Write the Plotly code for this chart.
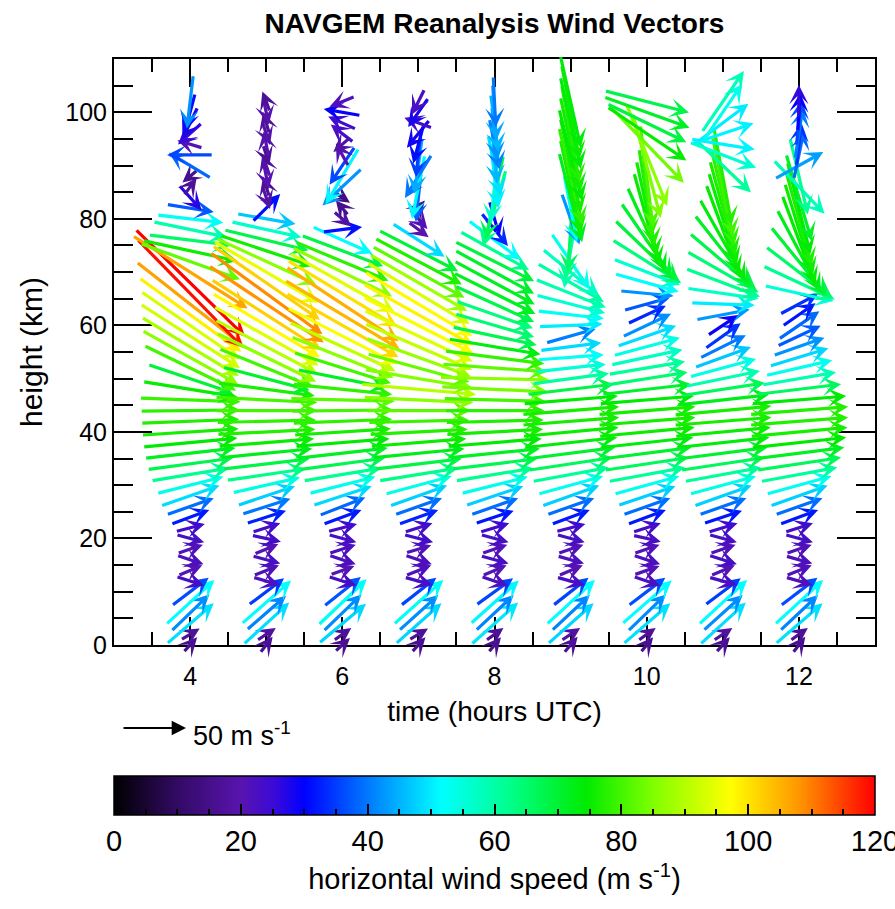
import math
import plotly.graph_objects as go
from plotly.colors import sample_colorscale

# ---------------------------------------------------------------------------
# Data: NAVGEM reanalysis horizontal wind profiles (m/s), hourly, 0-102 km
# ---------------------------------------------------------------------------
hours = [4, 5, 6, 7, 8, 9, 10, 11, 12]
heights_km = [0, 2, 4, 6, 8, 10, 12, 14, 16, 18, 20, 22, 24, 26, 28, 30, 32, 34,
              36, 38, 40, 42, 44, 46, 48, 50, 52, 54, 56, 58, 60, 62, 64, 66, 68,
              70, 72, 74, 76, 78, 80, 82, 84, 86, 88, 90, 92, 94, 96, 98, 100, 102]

# zonal (u, eastward) and meridional (v, northward) components
u_04 = [11, 15, 37, 30, 38, 29, 22, 19, 21, 20, 22, 23, 30, 37, 46, 52, 61, 67, 71, 74, 76, 77, 78, 79, 74,
        66, 72, 75, 76, 78, 77, 80, 84, 83, 86, 90, 78, 74, 65, 58, 52, 37, 18, 10, -12, -33, -36, -20, -19, -12, -8, -5]
v_04 = [12, 9, 32, 29, 35, 22, -7, 8, -7, 7, -6, 6, 11, 13, 16, 13, 10, 9, 8, 7, 5, 3, 1, -3, -12,
        -22, -35, -42, -46, -50, -53, -58, -66, -85, -84, -57, -28, -16, -8, -12, -6, -6, -20, 14, -10, 20, 0, 6, -17, -25, -30, -42]

u_05 = [10, 15, 36, 31, 39, 28, 21, 20, 22, 19, 23, 22, 31, 38, 45, 53, 62, 68, 72, 75, 77, 78, 80, 80, 76,
        68, 74, 78, 80, 82, 84, 86, 90, 88, 84, 82, 78, 72, 66, 55, 46, 22, 6, -5, 4, -6, 5, -4, 6, -5, 4, -6]
v_05 = [13, 10, 33, 27, 34, 21, -6, 8, -6, 8, -5, 7, 10, 12, 15, 12, 9, 8, 7, 6, 4, 2, 0, -4, -10,
        -18, -30, -38, -42, -46, -50, -55, -60, -64, -58, -48, -36, -24, -16, -12, -8, 22, -18, 16, -20, 18, -16, 20, -18, 17, -19, 16]

u_06 = [12, 14, 37, 30, 38, 29, 22, 19, 21, 21, 22, 23, 30, 36, 46, 52, 61, 67, 71, 74, 76, 78, 80, 82, 78,
        70, 76, 80, 83, 86, 88, 90, 88, 86, 82, 78, 72, 64, 47, 31, 14, -10, 12, -31, -26, -20, -10, -14, -18, -22, -29, -20]
v_06 = [11, 10, 31, 29, 36, 23, -7, 7, -7, 7, -6, 6, 11, 14, 15, 13, 10, 9, 8, 6, 5, 3, 1, -2, -8,
        -14, -24, -32, -38, -44, -50, -54, -58, -52, -46, -38, -30, -24, -21, 4, -12, 12, -8, -29, -44, -30, 18, -12, 14, 10, 5, -8]

u_07 = [11, 15, 36, 31, 39, 28, 22, 20, 21, 20, 23, 22, 31, 37, 45, 52, 62, 68, 72, 75, 77, 79, 82, 86, 90,
        84, 80, 82, 84, 85, 86, 86, 84, 80, 76, 72, 68, 62, 41, 16, 14, 10, -4, -10, -21, -6, -4, -8, -18, -22, -16, -10]
v_07 = [12, 9, 32, 28, 35, 22, -6, 8, -7, 6, -6, 7, 11, 13, 16, 14, 10, 8, 7, 6, 4, 2, 0, -4, -8,
        -14, -22, -30, -36, -40, -44, -48, -50, -48, -44, -40, -36, -32, -26, -12, -16, 12, -38, -50, -34, -44, -35, -30, -22, 8, -23, -20]

u_08 = [10, 14, 37, 30, 38, 29, 21, 19, 22, 20, 22, 23, 30, 37, 45, 52, 61, 67, 71, 74, 76, 77, 78, 80, 84,
        86, 82, 78, 72, 66, 62, 60, 62, 64, 63, 62, 62, 54, 41, 21, 8, -18, -14, -6, 6, 10, 4, 8, 4, 6, 3, 2]
v_08 = [12, 10, 33, 28, 34, 21, -7, 8, -6, 7, -6, 7, 10, 13, 15, 13, 10, 8, 7, 6, 4, 2, 0, -2, -4,
        -2, -6, -10, -12, -14, -18, -21, -28, -32, -34, -34, -31, -30, -31, -26, -28, -60, -66, -56, -50, -48, -45, -40, -42, -45, -44, -40]

u_09 = [11, 15, 36, 30, 38, 28, 22, 19, 21, 20, 22, 23, 30, 37, 45, 51, 60, 66, 70, 73, 75, 76, 76, 74, 68,
        60, 55, 52, 48, 39, 50, 52, 54, 55, 52, 44, 30, -10, -8, -4, 14, 10, 18, 16, 18, 16, 18, 16, 14, 16, 14, 16]
v_09 = [13, 10, 32, 28, 35, 22, -6, 8, -6, 7, -6, 6, 11, 13, 16, 14, 11, 10, 9, 8, 7, 6, 6, 6, 8,
        8, 6, 4, 6, 11, 2, -6, -14, -22, -30, -36, -44, -58, -62, -66, -40, -52, -70, -74, -76, -74, -72, -74, -76, -72, -74, -72]

u_10 = [10, 14, 37, 30, 39, 29, 21, 20, 21, 20, 22, 22, 30, 37, 45, 51, 60, 66, 70, 73, 75, 76, 76, 74, 70,
        64, 60, 56, 52, 46, 38, 30, 36, 42, 50, 52, 54, 50, 40, 30, 20, 16, 12, 8, 10, 22, 32, 58, 62, 62, 67, 66]
v_10 = [12, 10, 32, 29, 34, 22, -7, 7, -7, 7, -5, 7, 11, 13, 15, 14, 11, 10, 9, 8, 7, 6, 6, 6, 8,
        10, 10, 12, 14, 16, 18, 14, 10, -4, -14, -20, -34, -48, -58, -66, -72, -74, -76, -78, -80, -82, -80, -60, -42, -30, -24, -17]

u_11 = [11, 15, 36, 31, 38, 28, 22, 19, 22, 20, 22, 23, 30, 37, 45, 52, 60, 66, 70, 73, 75, 76, 76, 72, 66,
        58, 52, 44, 36, 28, 24, 42, 50, 56, 58, 56, 52, 44, 36, 26, 22, 20, 18, 16, 14, 44, 52, 50, 48, 40, 30, 33]
v_11 = [12, 10, 33, 28, 35, 21, -6, 8, -7, 7, -6, 7, 10, 13, 16, 14, 11, 10, 9, 8, 7, 6, 7, 8, 10,
        12, 14, 16, 18, 20, 16, 8, -2, -8, -22, -32, -44, -56, -64, -70, -72, -74, -76, -78, -76, -42, -20, -8, 16, 30, 44, 48]

u_12 = [10, 14, 37, 30, 38, 29, 21, 20, 21, 20, 22, 22, 30, 37, 45, 51, 60, 66, 71, 74, 76, 77, 77, 74, 66,
        58, 52, 46, 40, 34, 32, 26, 30, 54, 56, 52, 44, 34, 26, 22, 20, 18, 20, 40, 14, 38, 8, 4, 6, 4, 2, 0]
v_12 = [13, 10, 32, 28, 35, 22, -6, 8, -6, 7, -6, 7, 11, 13, 16, 14, 11, 10, 9, 8, 7, 6, 6, 6, 8,
        10, 12, 14, 14, 16, 22, 18, 16, -12, -26, -40, -54, -64, -70, -72, -74, -72, -68, -42, -60, 21, 38, 34, 40, 36, 30, 26]

u_wind = dict(zip(hours, [u_04, u_05, u_06, u_07, u_08, u_09, u_10, u_11, u_12]))
v_wind = dict(zip(hours, [v_04, v_05, v_06, v_07, v_08, v_09, v_10, v_11, v_12]))

speed_ticks = [0, 20, 40, 60, 80, 100, 120]
REF_SPEED = 50          # reference vector, m/s

# ---------------------------------------------------------------------------
# Styling
# ---------------------------------------------------------------------------
FONT = "Liberation Sans, Arial, Helvetica, sans-serif"
W, H = 895, 909
M_L, M_R, M_T, M_B = 114, 20, 59, 264
X_RANGE = [3, 13]
Y_RANGE = [0, 110]
PX_PER_MS = 64.0 / REF_SPEED      # drawn arrow length per m/s

SPEED_SCALE = [
    [0.000, "rgb(0,0,0)"],
    [0.083, "rgb(50,10,100)"],
    [0.167, "rgb(88,20,175)"],
    [0.210, "rgb(60,10,215)"],
    [0.250, "rgb(0,0,255)"],
    [0.333, "rgb(0,120,255)"],
    [0.430, "rgb(0,255,255)"],
    [0.520, "rgb(0,255,140)"],
    [0.620, "rgb(0,235,0)"],
    [0.710, "rgb(130,255,0)"],
    [0.810, "rgb(255,255,0)"],
    [0.900, "rgb(255,150,0)"],
    [1.000, "rgb(255,0,0)"],
]
CLEAR_SCALE = [[0, "rgba(0,0,0,0)"], [1, "rgba(0,0,0,0)"]]
SMAX = speed_ticks[-1]

plot_w = W - M_L - M_R
plot_h = H - M_T - M_B
hr_per_px = (X_RANGE[1] - X_RANGE[0]) / plot_w
km_per_px = (Y_RANGE[1] - Y_RANGE[0]) / plot_h

# ---------------------------------------------------------------------------
# Vectors: each arrow centred on its (time, height) grid point
# ---------------------------------------------------------------------------
annotations = []
pt_t, pt_z, pt_s, pt_u, pt_v = [], [], [], [], []
for t in hours:
    us, vs = u_wind[t], v_wind[t]
    assert len(us) == len(heights_km) == len(vs)
    for z, u, v in zip(heights_km, us, vs):
        spd = math.hypot(u, v)
        col = sample_colorscale(SPEED_SCALE, [min(spd, SMAX) / SMAX])[0]
        dx = u * PX_PER_MS * hr_per_px
        dz = v * PX_PER_MS * km_per_px
        annotations.append(dict(
            x=t + dx / 2, y=z + dz / 2, ax=t - dx / 2, ay=z - dz / 2,
            xref="x", yref="y", axref="x", ayref="y",
            text="", showarrow=True, arrowhead=3, arrowsize=1.0,
            arrowwidth=3.2, arrowcolor=col, standoff=0, startstandoff=0,
        ))
        pt_t.append(t); pt_z.append(z); pt_s.append(spd); pt_u.append(u); pt_v.append(v)

# reference vector
ref_tail = X_RANGE[0] + 8 * hr_per_px
annotations.append(dict(
    x=ref_tail + REF_SPEED * PX_PER_MS * hr_per_px, y=-0.1416, xref="x", yref="paper",
    ax=ref_tail, ay=0, axref="x", ayref="pixel",
    text="", showarrow=True, arrowhead=2, arrowsize=1.3, arrowwidth=2.2,
    arrowcolor="black", standoff=0, startstandoff=0,
))
annotations.append(dict(
    x=(191 - M_L) / plot_w, y=-0.152, xref="paper", yref="paper",
    xanchor="left", yanchor="middle", showarrow=False,
    text="50 m s<sup>-1</sup>", font=dict(family=FONT, size=27, color="black"),
))

fig = go.Figure()

hover = "t=%{x} h, z=%{y} km<br>u=%{customdata[0]}, v=%{customdata[1]}<br>|V|=%{marker.color:.0f} m/s<extra></extra>"
cd = list(zip(pt_u, pt_v))

# colour bar (gradient + minor ticks)
fig.add_trace(go.Scatter(
    x=pt_t, y=pt_z, mode="markers", customdata=cd, hovertemplate=hover,
    marker=dict(size=10, opacity=0, color=pt_s, colorscale=SPEED_SCALE, cmin=0, cmax=SMAX,
                showscale=True,
                colorbar=dict(orientation="h", x=0.5, xanchor="center", len=1.0, lenmode="fraction",
                              y=-0.2235, yanchor="top", thickness=39, xpad=0, ypad=0,
                              outlinewidth=0, ticks="inside", tickmode="linear", tick0=0, dtick=5,
                              ticklen=6, tickwidth=1.5, tickcolor="black", showticklabels=False)),
    showlegend=False,
))
# colour bar (outline, major ticks, labels, title)
fig.add_trace(go.Scatter(
    x=pt_t, y=pt_z, mode="markers", hoverinfo="skip",
    marker=dict(size=10, opacity=0, color=pt_s, colorscale=CLEAR_SCALE, cmin=0, cmax=SMAX,
                showscale=True,
                colorbar=dict(orientation="h", x=0.5, xanchor="center", len=1.0, lenmode="fraction",
                              y=-0.2235, yanchor="top", thickness=39, xpad=0, ypad=0,
                              outlinewidth=1.5, outlinecolor="black",
                              ticks="inside", tickvals=speed_ticks, ticklen=11, tickwidth=1.5,
                              tickcolor="black", ticklabeloverflow="allow",
                              tickfont=dict(family=FONT, size=29, color="black"),
                              title=dict(text="horizontal wind speed (m s<sup>-1</sup>)", side="bottom",
                                         font=dict(family=FONT, size=29, color="black")))),
    showlegend=False,
))

axis_common = dict(showline=True, linewidth=2, linecolor="black", mirror="ticks",
                   ticks="inside", tickcolor="black", tickwidth=2, showgrid=False, zeroline=False,
                   tickfont=dict(family=FONT, size=25, color="black"))

fig.update_layout(
    width=W, height=H, margin=dict(l=M_L, r=M_R, t=M_T, b=M_B, autoexpand=False),
    paper_bgcolor="white", plot_bgcolor="white",
    font=dict(family=FONT, color="black"),
    title=dict(text="<b>NAVGEM Reanalysis Wind Vectors</b>", x=0.5, xref="paper",
               y=1 - 23 / H, yref="container", yanchor="middle",
               font=dict(family=FONT, size=28, color="black")),
    xaxis=dict(range=X_RANGE, tickmode="linear", tick0=4, dtick=2, ticklen=28,
               minor=dict(dtick=0.5, ticks="inside", ticklen=13, tickwidth=2, tickcolor="black"),
               title=dict(text="time (hours UTC)", standoff=12,
                          font=dict(family=FONT, size=28, color="black")),
               ticklabelstandoff=8, **axis_common),
    yaxis=dict(range=Y_RANGE, tickmode="linear", tick0=0, dtick=20, ticklen=38,
               minor=dict(dtick=5, ticks="inside", ticklen=19, tickwidth=2, tickcolor="black"),
               title=dict(text="height (km)", standoff=14,
                          font=dict(family=FONT, size=30, color="black")),
               **axis_common),
    annotations=annotations,
    showlegend=False,
)

fig.write_html("out.html")
